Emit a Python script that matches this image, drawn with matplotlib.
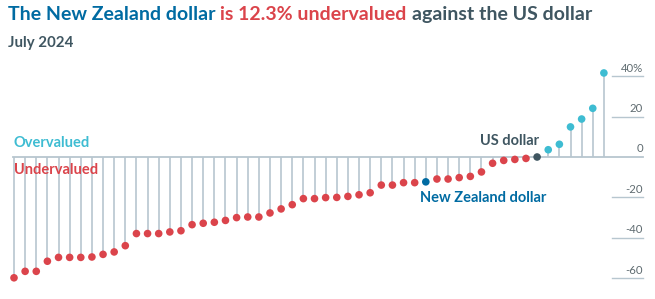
import numpy as np
import matplotlib
matplotlib.use("Agg")
from matplotlib import pyplot as plt

# Big Mac style valuation vs US dollar, %, July 2024
values = [-59.8, -56.6, -56.6, -51.6, -49.7, -49.7, -49.7, -49.5, -48.2, -47.0,
          -43.9, -37.9, -37.9, -37.9, -37.1, -36.5, -33.5, -32.8, -32.3, -31.4,
          -30.0, -29.7, -29.7, -27.7, -25.7, -23.6, -20.6, -20.6, -20.1, -20.0,
          -19.5, -18.7, -17.7, -13.9, -13.9, -12.7, -12.7, -12.3, -10.9, -10.9,
          -10.2, -9.6, -7.4, -3.1, -1.7, -1.2, -0.7, 0.0, 3.6, 6.3,
          14.9, 18.8, 24.1, 41.6]
nz_idx = 37
us_idx = 47
yticks = [40, 20, 0, -20, -40, -60]
ytick_labels = ["40%", "20", "0", "-20", "-40", "-60"]

RED = "#DB444B"
CYAN = "#3EBCD2"
BLUE = "#006BA2"
DARK = "#3F5661"
STEM = "#B7C6CF"
GRID = "#B7C6CF"

plt.rcParams['font.family'] = ['Lato', 'DejaVu Sans']

W, H = 655, 299
fig = plt.figure(figsize=(W / 100, H / 100), dpi=100)
ax = fig.add_axes([0, 0, 1, 1])
ax.axis("off")

# pixel mapping: x = 14 + 11.13*i, y = 157 - 2.02*v
dx = 11.13
ax.set_xlim(-14 / dx, (W - 14) / dx)
ax.set_ylim(-(H - 157) / 2.02, 157 / 2.02)

x = np.arange(len(values))
vals = np.array(values)

colors = []
for i, v in enumerate(values):
    if i == nz_idx:
        colors.append(BLUE)
    elif i == us_idx:
        colors.append(DARK)
    elif v > 0:
        colors.append(CYAN)
    else:
        colors.append(RED)

# gridlines (short, right side) and full zero line
x_right = (643 - 14) / dx
x_gl = (612 - 14) / dx
for t, lab in zip(yticks, ytick_labels):
    if t == 0:
        ax.plot([-1 / dx, x_right], [0, 0], color=GRID, lw=1.3, zorder=1)
    else:
        ax.plot([x_gl, x_right], [t, t], color=GRID, lw=1.0, zorder=1)
    ax.text(x_right, t + 1.3, lab, ha="right", va="bottom", fontsize=8.2,
            color="#5F6B70")

# stems
ax.vlines(x, 0, vals, color=STEM, lw=1.2, zorder=2)
ax.scatter(x, vals, s=30, c=colors, zorder=3, linewidths=0)

# labels
ax.text(0, 3.5, "Overvalued", color=CYAN, fontsize=10.5, fontweight="bold",
        ha="left", va="bottom")
ax.text(0, -2.8, "Undervalued", color=RED, fontsize=10.5, fontweight="bold",
        ha="left", va="top")
ax.text(us_idx + 0.15, 4.5, "US dollar", color=DARK, fontsize=10.5,
        fontweight="bold", ha="right", va="bottom")
ax.text(nz_idx - 0.5, -17.0, "New Zealand dollar", color=BLUE, fontsize=10.5,
        fontweight="bold", ha="left", va="top")

# multi-coloured title
renderer = fig.canvas.get_renderer()
parts = [("The New Zealand dollar", BLUE), ("is 12.3% undervalued", RED),
         ("against the US dollar", DARK)]
xpos = 8
for txt, col in parts:
    t = fig.text(xpos / W, 1 - 20 / H, txt, color=col, fontsize=14,
                 fontweight="bold", ha="left", va="baseline")
    bb = t.get_window_extent(renderer)
    xpos = bb.x1 + 5
fig.text(8 / W, 1 - 46.5 / H, "July 2024", color=DARK, fontsize=10.8,
         fontweight="bold", ha="left", va="baseline")

fig.savefig("out.png", dpi=100)
